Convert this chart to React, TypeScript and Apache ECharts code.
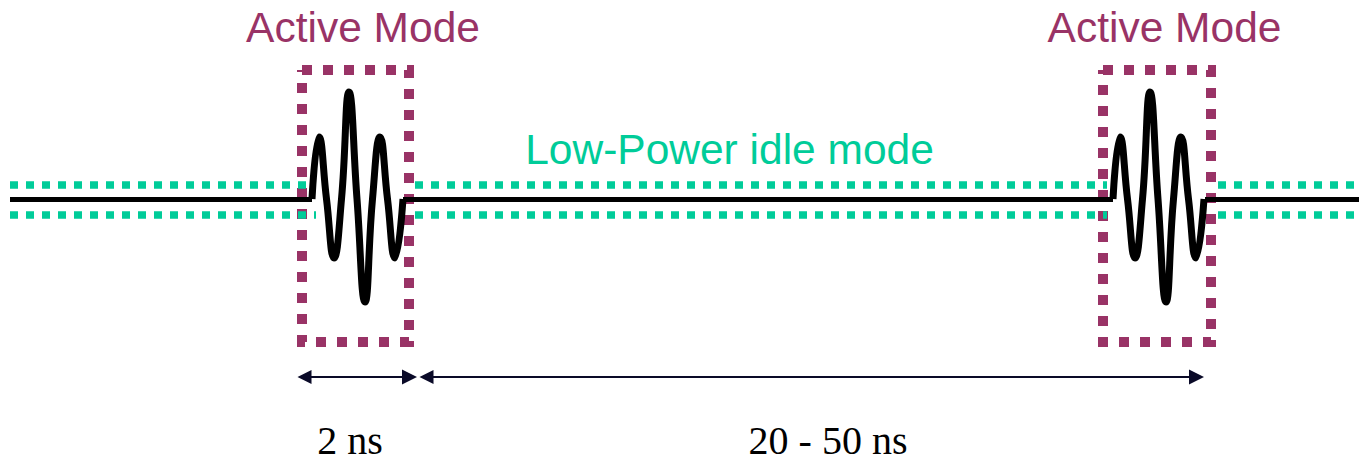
import React, { useEffect, useRef } from "react";
import * as echarts from "echarts";

// Signal timeline (horizontal units) and amplitude (vertical units, idle level = 0)
const PULSE_STARTS = [312, 1113];
const PULSE_T = [0, 7, 14.5, 22, 29.5, 37, 45, 53, 60.5, 68, 75.5, 83, 91];
const PULSE_AMP = [0, 62, 0, -59, 0, 107, 0, -103, 0, 62, 0, -59, 0];
const BASELINE_SEGMENTS = [
  [10, 312],
  [403, 1113],
  [1205, 1359],
];
const IDLE_SEGMENTS = [
  [10, 316],
  [415, 1107],
  [1218, 1359],
];
const IDLE_LEVELS = [14.5, -15.5];
const BOX_X = [
  [302, 409],
  [1103, 1211],
];
const BOX_Y = [129, -143];
const SPANS = [
  [297, 417],
  [419, 1204],
];
const SPAN_Y = -178;
const SPAN_LABELS = ["2 ns", "20 - 50 ns"];
const MODE_LABELS = ["Active Mode", "Active Mode"];
const IDLE_LABEL = "Low-Power idle mode";

const MAGENTA = "#993366";
const GREEN = "#00CC99";
const ARROW_HALF = 7.5;

export default function App() {
  const ref = useRef<HTMLDivElement>(null);
  useEffect(() => {
    document.body.style.margin = "0";
    if (!ref.current) return;
    const chart = echarts.init(ref.current, undefined, { renderer: "svg" });

    const boxSeries = {
      type: "lines",
      coordinateSystem: "cartesian2d",
      polyline: true,
      z: 1,
      silent: true,
      lineStyle: { color: MAGENTA, width: 10, type: [10, 11], cap: "butt", opacity: 1 },
      data: BOX_X.map(([a, b]) => ({
        coords: [
          [a, BOX_Y[0]],
          [b, BOX_Y[0]],
          [b, BOX_Y[1]],
          [a, BOX_Y[1]],
          [a, BOX_Y[0]],
        ],
      })),
    };

    const idleSeries = {
      type: "lines",
      coordinateSystem: "cartesian2d",
      z: 2,
      silent: true,
      lineStyle: { color: GREEN, width: 7.5, type: [8, 8], cap: "butt", opacity: 1 },
      data: IDLE_LEVELS.flatMap((lv) =>
        IDLE_SEGMENTS.map(([a, b]) => ({ coords: [[a, lv], [b, lv]] }))
      ),
    };

    const baselineSeries = {
      type: "lines",
      coordinateSystem: "cartesian2d",
      z: 3,
      silent: true,
      lineStyle: { color: "#000", width: 5, opacity: 1 },
      data: BASELINE_SEGMENTS.map(([a, b]) => ({ coords: [[a, 0], [b, 0]] })),
    };

    const pulseSeries = PULSE_STARTS.map((s) => ({
      type: "line",
      z: 4,
      silent: true,
      smooth: 0.5,
      showSymbol: false,
      symbol: "none",
      lineStyle: { color: "#000", width: 7 },
      data: PULSE_T.map((t, i) => [s + t, PULSE_AMP[i]]),
    }));

    const spanSeries = {
      type: "lines",
      coordinateSystem: "cartesian2d",
      z: 5,
      silent: true,
      symbol: ["triangle", "triangle"],
      symbolSize: [14, 15],
      lineStyle: { color: "#0a0a28", width: 2, opacity: 1 },
      itemStyle: { color: "#0a0a28" },
      data: SPANS.map(([a, b]) => ({
        coords: [
          [a + ARROW_HALF, SPAN_Y],
          [b - ARROW_HALF, SPAN_Y],
        ],
      })),
    };

    const modeCenters = BOX_X.map(([a, b]) => (a + b) / 2);
    const spanCenters = [350, 828];

    chart.setOption({
      animation: false,
      grid: { left: 0, right: 0, top: 0, bottom: 0 },
      xAxis: { type: "value", min: 0, max: 1359, show: false },
      yAxis: { type: "value", min: -262, max: 199, show: false },
      series: [boxSeries, idleSeries, baselineSeries, ...pulseSeries, spanSeries],
      graphic: [
        ...MODE_LABELS.map((txt, i) => ({
          type: "text",
          x: modeCenters[i] + 7.5,
          y: 27.5,
          style: {
            text: txt,
            fill: MAGENTA,
            font: '42.5px "Liberation Sans", Arial, sans-serif',
            align: "center",
            verticalAlign: "middle",
          },
        })),
        {
          type: "text",
          x: 729.5,
          y: 149.5,
          style: {
            text: IDLE_LABEL,
            fill: GREEN,
            font: '42.5px "Liberation Sans", Arial, sans-serif',
            align: "center",
            verticalAlign: "middle",
          },
        },
        ...SPAN_LABELS.map((txt, i) => ({
          type: "text",
          x: spanCenters[i],
          y: 440,
          style: {
            text: txt,
            fill: "#000",
            font: '40px "Liberation Serif", "Times New Roman", serif',
            lineHeight: 34,
            align: "center",
            verticalAlign: "middle",
          },
        })),
      ],
    });
    return () => chart.dispose();
  }, []);
  return <div ref={ref} style={{ width: 1359, height: 461 }} />;
}
